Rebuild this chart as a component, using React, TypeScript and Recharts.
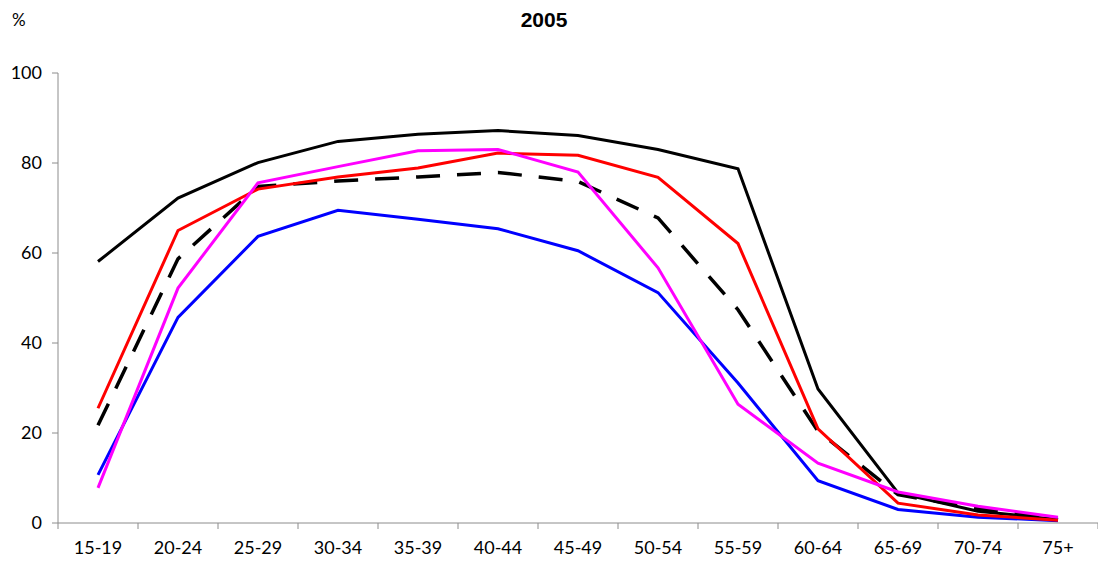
import React from 'react';
import { LineChart, Line, XAxis, YAxis } from 'recharts';

const ageGroups = ['15-19', '20-24', '25-29', '30-34', '35-39', '40-44', '45-49', '50-54', '55-59', '60-64', '65-69', '70-74', '75+'];
const seriesBlack = [58.1, 72.2, 80.1, 84.8, 86.4, 87.2, 86.1, 83.0, 78.7, 29.8, 6.7, 2.6, 0.8];
const seriesDashed = [21.7, 58.7, 74.8, 76.0, 76.9, 77.9, 75.9, 67.8, 47.4, 20.4, 6.3, 3.2, 0.8];
const seriesBlue = [10.7, 45.7, 63.7, 69.5, 67.5, 65.4, 60.5, 51.2, 31.1, 9.4, 3.0, 1.3, 0.5];
const seriesRed = [25.5, 65.0, 74.2, 76.9, 78.9, 82.2, 81.7, 76.8, 62.1, 20.9, 4.4, 1.8, 0.6];
const seriesMagenta = [7.8, 52.2, 75.6, 79.2, 82.7, 83.0, 78.0, 56.7, 26.4, 13.3, 6.9, 3.7, 1.3];
const yTicks = [0, 20, 40, 60, 80, 100];
const titleText = '2005';
const unitText = '%';

const data = ageGroups.map((age, i) => ({
  age,
  black: seriesBlack[i],
  dashed: seriesDashed[i],
  blue: seriesBlue[i],
  red: seriesRed[i],
  magenta: seriesMagenta[i],
}));

const AXIS_COLOR = '#8c8c8c';
const FONT = 'Lato, "Open Sans", sans-serif';

const XTick = (props: any) => {
  const { x, y, payload, index, visibleTicksCount, width } = props;
  const band = width && visibleTicksCount ? width / visibleTicksCount : 80;
  const half = band / 2;
  const isLast = index === visibleTicksCount - 1;
  return (
    <g>
      <line x1={x - half} x2={x - half} y1={y} y2={y + 6} stroke={AXIS_COLOR} strokeWidth={1} />
      {isLast && <line x1={x + half} x2={x + half} y1={y} y2={y + 6} stroke={AXIS_COLOR} strokeWidth={1} />}
      <text x={x} y={y + 31} textAnchor="middle" fontFamily={FONT} fontSize={18} fill="#000">
        {payload.value}
      </text>
    </g>
  );
};

export default function App() {
  return (
    <div style={{ position: 'absolute', left: 0, top: 0, width: 1098, height: 570, background: '#fff' }}>
      <div style={{ position: 'absolute', left: 444, top: 9, width: 200, textAlign: 'center', fontFamily: '"Liberation Sans", Arial, sans-serif', fontWeight: 'bold', fontSize: 21, lineHeight: '22px', color: '#000' }}>
        {titleText}
      </div>
      <div style={{ position: 'absolute', left: 12, top: 9, fontFamily: FONT, fontSize: 17, lineHeight: '22px', color: '#000' }}>
        {unitText}
      </div>
      <LineChart width={1098} height={570} data={data} margin={{ top: 73, right: 0, bottom: 0, left: 0 }}>
        <XAxis
          dataKey="age"
          scale="band"
          height={47}
          axisLine={{ stroke: AXIS_COLOR }}
          tickLine={false}
          tickSize={0}
          tickMargin={0}
          interval={0}
          tick={<XTick />}
        />
        <YAxis
          domain={[0, 100]}
          ticks={yTicks}
          width={58}
          axisLine={{ stroke: AXIS_COLOR }}
          tickLine={{ stroke: AXIS_COLOR }}
          tickSize={6}
          tickMargin={10}
          tick={{ fontFamily: FONT, fontSize: 18, fill: '#000' }}
          interval={0}
        />
        <Line dataKey="dashed" stroke="#000" strokeWidth={3.5} strokeDasharray="24 17" dot={false} isAnimationActive={false} />
        <Line dataKey="black" stroke="#000" strokeWidth={3} dot={false} isAnimationActive={false} />
        <Line dataKey="blue" stroke="#0000ff" strokeWidth={3} dot={false} isAnimationActive={false} />
        <Line dataKey="red" stroke="#ff0000" strokeWidth={3} dot={false} isAnimationActive={false} />
        <Line dataKey="magenta" stroke="#ff00ff" strokeWidth={3} dot={false} isAnimationActive={false} />
      </LineChart>
    </div>
  );
}
